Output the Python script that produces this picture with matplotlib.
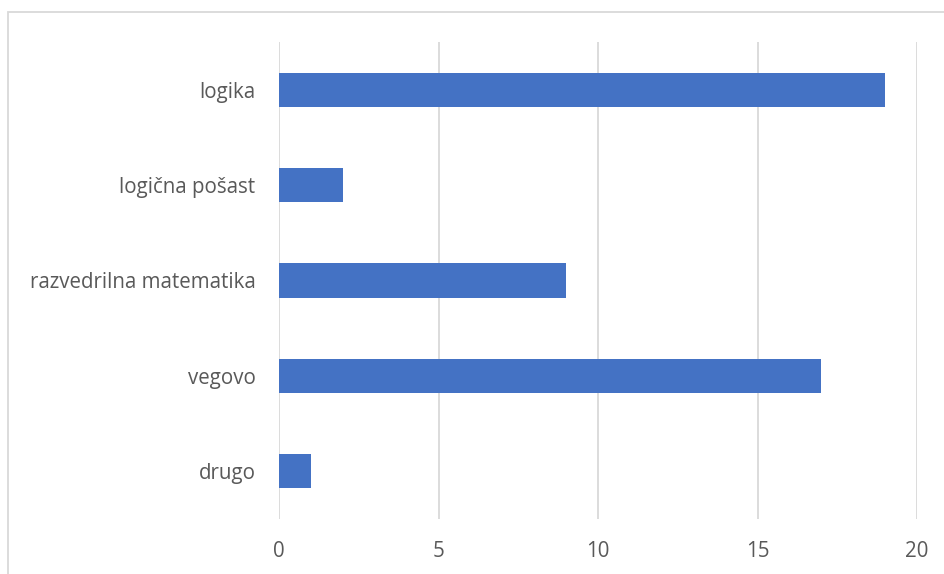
import matplotlib.pyplot as plt
from matplotlib.patches import Rectangle

# Survey answers, listed top to bottom
categories = ['logika', 'logična pošast', 'razvedrilna matematika', 'vegovo', 'drugo']
counts = [19, 2, 9, 17, 1]
x_ticks = [0, 5, 10, 15, 20]

BAR_COLOR = '#4472C4'
GRID_COLOR = '#D9D9D9'
TEXT_COLOR = '#595959'

plt.rcParams['font.family'] = ['Open Sans', 'DejaVu Sans']

W, H = 945, 574
fig = plt.figure(figsize=(W / 100, H / 100), dpi=100)

# light chart-area frame, running off the right and bottom edges
fig.patches.append(Rectangle((8 / W, -0.1), 1.2, 1 - 12 / H + 0.1,
                             transform=fig.transFigure, fill=False,
                             edgecolor=GRID_COLOR, linewidth=1.3))

ax = fig.add_axes([279 / W, 1 - 519 / H, (917 - 279) / W, (519 - 42) / H])

pos = list(range(len(categories)))
ax.barh(pos, counts, height=0.36, color=BAR_COLOR, zorder=3)
ax.set_ylim(len(categories) - 0.5, -0.5)
ax.set_xlim(0, 20)

ax.set_xticks(x_ticks)
ax.set_xticklabels([str(t) for t in x_ticks])
ax.set_yticks(pos)
ax.set_yticklabels(categories)
ax.tick_params(axis='both', length=0, labelsize=14.8, colors=TEXT_COLOR)
ax.tick_params(axis='x', pad=16)
ax.tick_params(axis='y', pad=17)

ax.grid(axis='x', color=GRID_COLOR, linewidth=1.3, zorder=0)
for s in ax.spines.values():
    s.set_visible(False)

fig.savefig('out.png', dpi=100)
